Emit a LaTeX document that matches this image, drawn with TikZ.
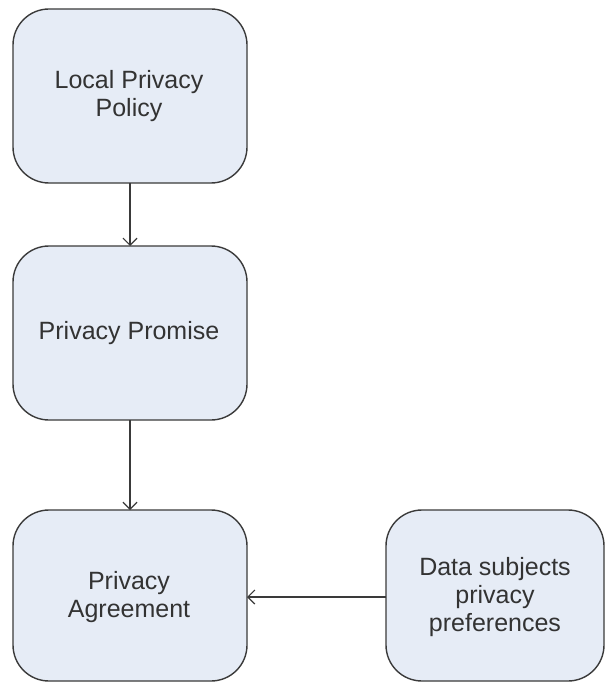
\documentclass[tikz,border=0pt]{standalone}
\usepackage{fontspec}
\setmainfont{Liberation Sans}
\usetikzlibrary{arrows.meta}
\definecolor{boxfill}{HTML}{E6ECF6}
\definecolor{boxline}{HTML}{3A3A3A}
\definecolor{txt}{HTML}{333333}
\begin{document}
\begin{tikzpicture}[x=1pt,y=-1pt,
  rbox/.style={draw=boxline, line width=1.4pt, fill=boxfill, rounded corners=36pt},
  lbl/.style={text=txt, font=\fontsize{25}{28}\selectfont, align=center},
  conn/.style={draw=boxline, line width=1.2pt, -{Straight Barb[length=7pt,width=14pt]}}]
\useasboundingbox (0,0) rectangle (608,682);
\draw[rbox] (13,9) rectangle (247,183);
\draw[rbox] (13,246) rectangle (247,420);
\draw[rbox] (13,510) rectangle (247,681);
\draw[rbox] (386,510) rectangle (604,681);
\node[lbl] (t1) at (129,96) {Local Privacy\\Policy};
\node[lbl] (t2) at (129,333) {Privacy Promise};
\node[lbl] (t3) at (129,597) {Privacy\\Agreement};
\node[lbl] (t4) at (495,597) {Data subjects\\privacy\\preferences};
\coordinate (b1) at (130,183);
\coordinate (b2t) at (130,246);
\coordinate (b2) at (130,420);
\coordinate (b3t) at (130,510);
\coordinate (b4l) at (386,597);
\coordinate (b3r) at (247,597);
\draw[conn] (b1) -- (b2t);
\draw[conn] (b2) -- (b3t);
\draw[conn] (b4l) -- (b3r);
\end{tikzpicture}
\end{document}
